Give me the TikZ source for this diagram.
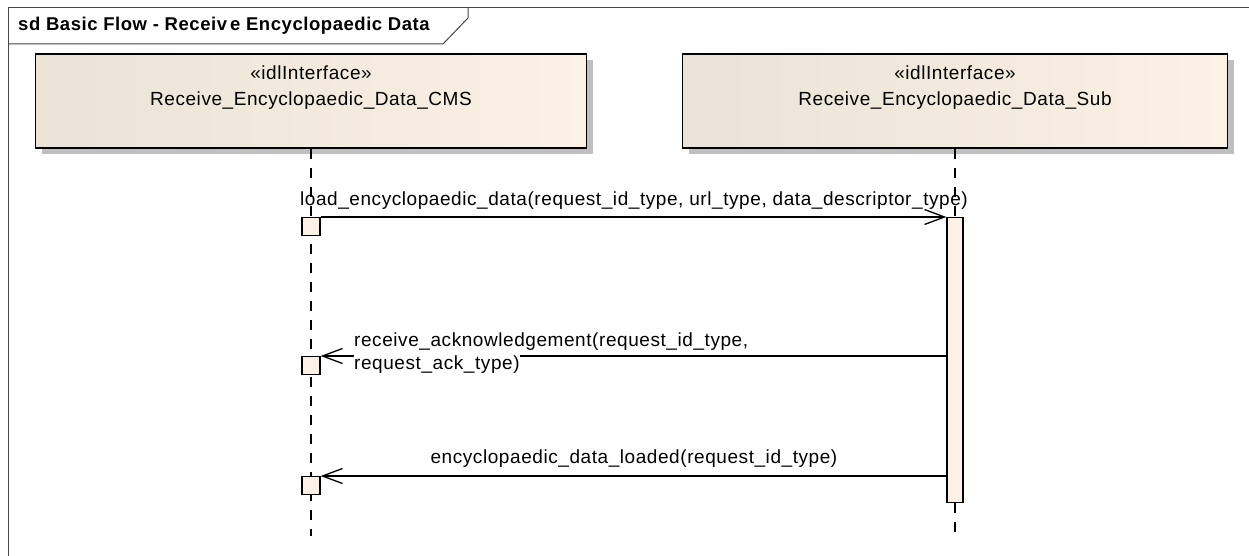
\documentclass[tikz,border=0pt]{standalone}
\usepackage{fontspec}
\setmainfont{Liberation Sans}[LetterSpace=3]
\usetikzlibrary{arrows.meta,shadows}
\definecolor{lifebg}{RGB}{251,241,228}
\definecolor{lifebgL}{RGB}{234,227,214}
\definecolor{framec}{RGB}{70,70,70}
\begin{document}
\begin{tikzpicture}[x=1pt,y=-1pt,
  lbl/.style={font=\fontsize{19}{22}\selectfont, inner sep=0pt},
  lifebox/.style={draw=black, line width=1.6pt, left color=lifebgL, right color=lifebg,
    drop shadow={shadow xshift=6pt, shadow yshift=-6pt, fill=black!25, opacity=1},
    minimum height=94pt, inner sep=0pt},
  actbox/.style={draw=black, line width=1.3pt, fill=lifebg, inner sep=0pt},
  lifeline/.style={draw=black, line width=1.3pt, dash pattern=on 10pt off 9pt},
  msg/.style={draw=black, line width=1.3pt, -{Straight Barb[length=20pt,width=15pt,line width=1.3pt]}}
]
\useasboundingbox (0,0) rectangle (1249,556);
\fill[white] (0,0) rectangle (1249,556);
% frame
\draw[framec, line width=1pt] (8,556) -- (8,8) -- (1249,8);
\draw[framec, line width=1pt] (8,44) -- (443,44) -- (468,18) -- (468,8);
\node[anchor=west, inner sep=0pt, font=\bfseries\fontsize{18.5}{21}\selectfont] (title) at (18,26) {sd Basic Flow - Receiv\kern3pt e Encyclopaedic Data};
% lifeline heads
\node[lifebox, minimum width=551pt] (cms) at (311,101) {};
\node[lbl] (cmsst) at (311,73) {«idlInterface»};
\node[lbl] (cmsname) at (311,101) {Receive\_Encyclopaedic\_Data\_CMS};
\node[lifebox, minimum width=545pt] (sub) at (955,101) {};
\node[lbl] (subst) at (955,73) {«idlInterface»};
\node[lbl] (subname) at (955,101) {Receive\_Encyclopaedic\_Data\_Sub};
% lifelines
\coordinate (endL) at (311,536);
\coordinate (endR) at (955,536);
\node[actbox, minimum width=16pt, minimum height=285pt, anchor=north] (bar) at (955,217) {};
\draw[lifeline] (cms.south) -- (endL);
\draw[lifeline] (sub.south) -- (bar.north);
\draw[lifeline] (bar.south) -- (endR);
% activations on the left
\node[actbox, minimum size=18pt, anchor=north] (a1) at (311,217) {};
\node[actbox, minimum size=18pt, anchor=north] (a2) at (311,356) {};
\node[actbox, minimum size=18pt, anchor=north] (a3) at (311,476) {};
% messages
\draw[msg] (a1.north east) -- (bar.north west);
\node[lbl] (m1) at (634,201) {load\_encyclopaedic\_data(request\_id\_type, url\_type, data\_descriptor\_type)};
\draw[msg] (bar.west |- a2.north) -- (a2.north east);
\node[lbl, anchor=west] (m2a) at (354,342) {receive\_acknowledgement(request\_id\_type,};
\node[lbl, anchor=west, fill=white, inner ysep=3pt] (m2b) at (354,365) {request\_ack\_type)};
\draw[msg] (bar.west |- a3.north) -- (a3.north east);
\node[lbl] (m3) at (634,459) {encyclopaedic\_data\_loaded(request\_id\_type)};
\end{tikzpicture}
\end{document}
